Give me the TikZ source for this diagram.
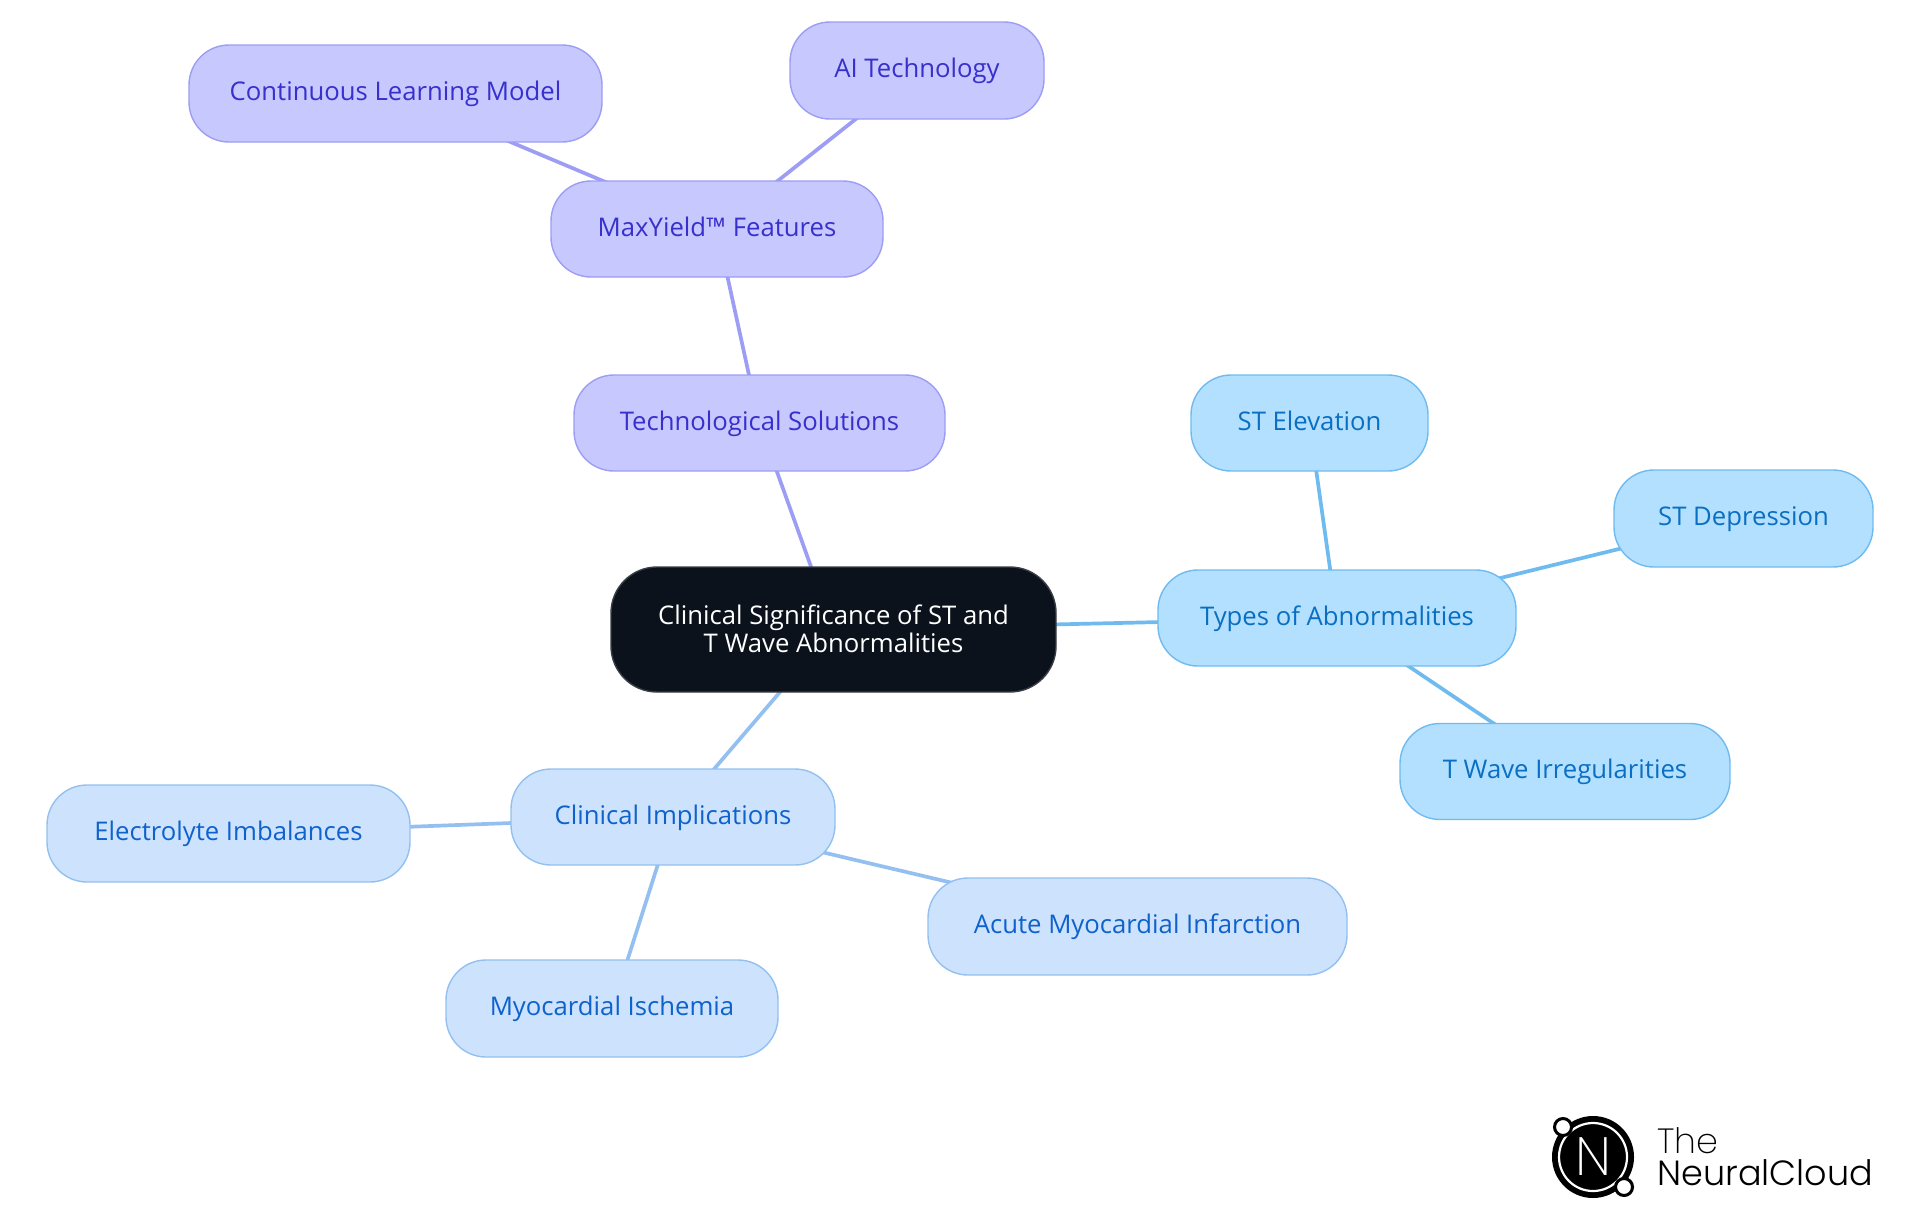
\documentclass[tikz,border=0pt]{standalone}
\usepackage{fontspec}
\setmainfont{Open Sans}
\newfontfamily\logofont{Poppins Light}
\newfontfamily\logothin{Poppins ExtraLight}
\usetikzlibrary{backgrounds}
\definecolor{rootfill}{HTML}{0B121B}
\definecolor{rootline}{HTML}{3A3F47}
\definecolor{purfill}{HTML}{C7C8FE}
\definecolor{purline}{HTML}{9C9DF3}
\definecolor{purtext}{HTML}{3730CC}
\definecolor{skyfill}{HTML}{B3E0FF}
\definecolor{skyline}{HTML}{6FBBEF}
\definecolor{skytext}{HTML}{0A6FC2}
\definecolor{palefill}{HTML}{CDE3FD}
\definecolor{paleline}{HTML}{93C0F0}
\definecolor{paletext}{HTML}{0F62CC}
\tikzset{
  x=0.5pt,y=-0.5pt,
  sz/.style 2 args={minimum width=#1*0.5pt,minimum height=#2*0.5pt},
  mapnode/.style={draw,line width=0.7pt,rounded corners=20pt,inner sep=0pt,font=\fontsize{12.85}{14}\selectfont,align=center},
  oneline/.style={mapnode,text height=10.2pt,text depth=2.9pt},
  rootnode/.style={mapnode,fill=rootfill,draw=rootline,text=white,rounded corners=23pt},
  purnode/.style={oneline,fill=purfill,draw=purline,text=purtext},
  skynode/.style={oneline,fill=skyfill,draw=skyline,text=skytext},
  palenode/.style={oneline,fill=palefill,draw=paleline,text=paletext},
  link/.style={line width=1.85pt},
  purlink/.style={link,draw=purline},
  skylink/.style={link,draw=skyline},
  palelink/.style={link,draw=paleline},
}
\begin{document}
\begin{tikzpicture}
\useasboundingbox (0,0) rectangle (1920,1215);
\node[rootnode,sz={445}{125}] (root) at (833.5,629.5) {\raisebox{1pt}{Clinical Significance of ST and}\\\raisebox{1pt}{T Wave Abnormalities}};
\node[skynode,sz={358}{96}] (types) at (1337,618) {Types of Abnormalities};
\node[skynode,sz={237}{96}] (elev) at (1309.5,423) {ST Elevation};
\node[skynode,sz={259}{97}] (dep) at (1743.5,518.5) {ST Depression};
\node[skynode,sz={330}{96}] (twave) at (1565,771.5) {T Wave Irregularities};
\node[palenode,sz={324}{96}] (impl) at (673,817) {Clinical Implications};
\node[palenode,sz={363}{97}] (elec) at (228.5,833.5) {Electrolyte Imbalances};
\node[palenode,sz={332}{97}] (isch) at (612,1008.5) {Myocardial Ischemia};
\node[palenode,sz={419}{97}] (acute) at (1137.5,926.5) {Acute Myocardial Infarction};
\node[purnode,sz={371}{96}] (tech) at (759.5,423) {Technological Solutions};
\node[purnode,sz={332}{96}] (max) at (717,229) {MaxYield™ Features};
\node[purnode,sz={413}{97}] (cont) at (395.5,93.5) {Continuous Learning Model};
\node[purnode,sz={254}{97}] (ai) at (917,70.5) {AI Technology};
\begin{pgfonlayer}{background}
\draw[purlink] (root.center) -- (tech.center);
\draw[purlink] (tech.center) -- (max.center);
\draw[purlink] (max.center) -- (cont.center);
\draw[purlink] (max.center) -- (ai.center);
\draw[skylink] (root.center) -- (types.center);
\draw[skylink] (types.center) -- (elev.center);
\draw[skylink] (types.center) -- (dep.center);
\draw[skylink] (types.center) -- (twave.center);
\draw[palelink] (root.center) -- (impl.center);
\draw[palelink] (impl.center) -- (elec.center);
\draw[palelink] (impl.center) -- (isch.center);
\draw[palelink] (impl.center) -- (acute.center);
\end{pgfonlayer}
% logo
\fill[black] (1593,1157) circle[radius=41];
\draw[white,line width=1.1pt] (1593,1157) circle[radius=34];
\filldraw[fill=white,draw=black,line width=1.5pt] (1563,1127) circle[radius=8.5];
\filldraw[fill=white,draw=black,line width=1.5pt] (1624,1187) circle[radius=8.5];
\node[text=white,inner sep=0pt,font=\logothin\fontsize{27}{27}\selectfont] (logon) at (1593,1157) {N};
\node[anchor=base west,inner sep=0pt,font=\logothin\fontsize{17.5}{17.5}\selectfont] (logoa) at (1657,1153) {The};
\node[anchor=base west,inner sep=0pt,font=\logofont\fontsize{17.5}{17.5}\selectfont] (logob) at (1657,1185) {NeuralCloud};
\end{tikzpicture}
\end{document}
